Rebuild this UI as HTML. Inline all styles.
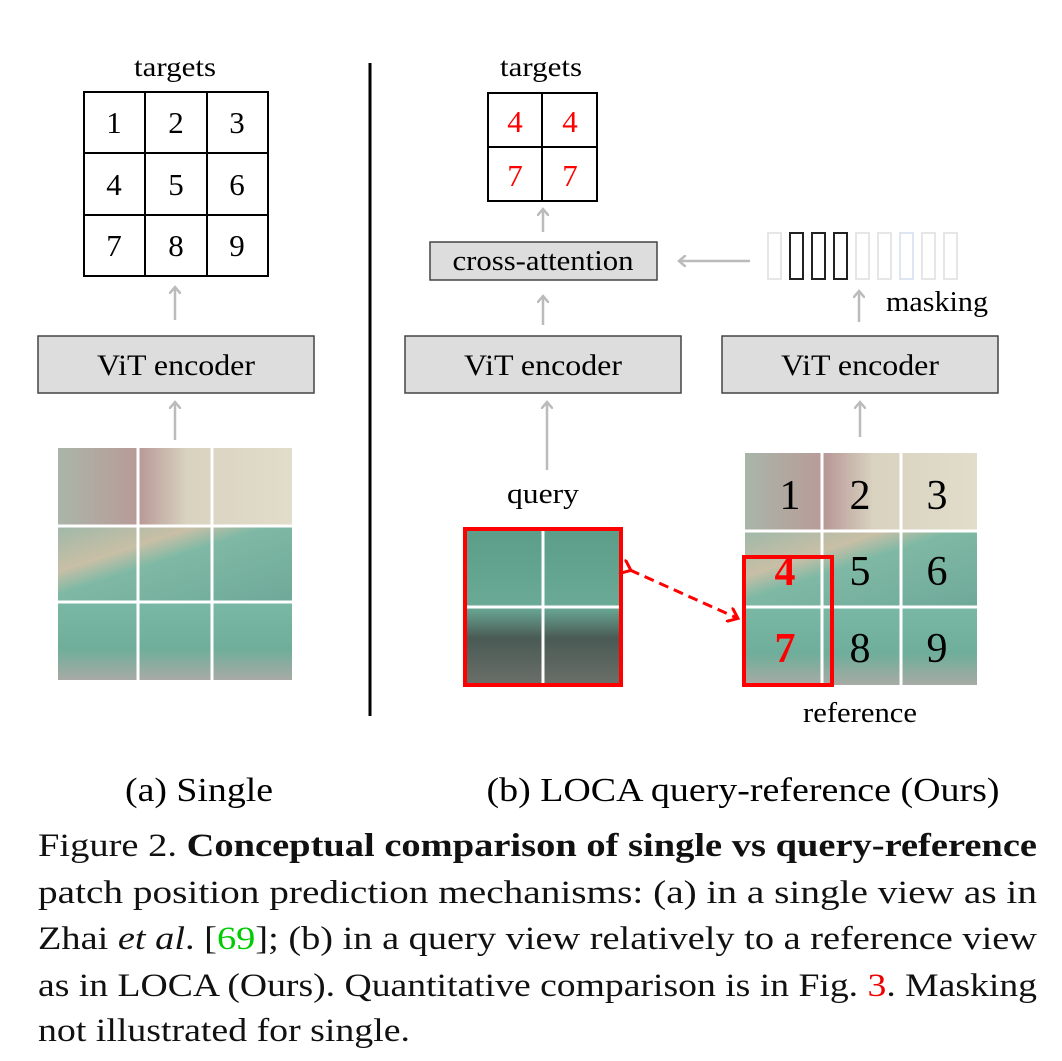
<!DOCTYPE html>
<html><head><meta charset="utf-8"><style>
body{margin:0;width:1062px;height:1061px;background:#fff;position:relative;overflow:hidden;font-family:"Liberation Serif",serif;}
svg{position:absolute;left:0;top:0}
</style></head><body>
<svg width="1062" height="1061" viewBox="0 0 1062 1061" font-family="Liberation Serif, serif">
<defs>
<linearGradient id="ph" x1="0" y1="0" x2="1" y2="1">
<stop offset="0" stop-color="#9fb8a8"/><stop offset="0.3" stop-color="#c8bfa6"/><stop offset="0.45" stop-color="#7fb9a5"/><stop offset="1" stop-color="#6fa898"/></linearGradient>
<linearGradient id="top" x1="0" y1="0" x2="1" y2="0">
<stop offset="0" stop-color="#a9b5a8"/><stop offset="0.35" stop-color="#b99a98"/><stop offset="0.55" stop-color="#d8d2bf"/><stop offset="1" stop-color="#e2dccb"/></linearGradient>
<linearGradient id="bot" x1="0" y1="0" x2="0" y2="1">
<stop offset="0" stop-color="#79b8a4"/><stop offset="0.6" stop-color="#6fae9a"/><stop offset="1" stop-color="#a8aaa5"/></linearGradient>
<linearGradient id="q" x1="0" y1="0" x2="0" y2="1">
<stop offset="0" stop-color="#5b9d88"/><stop offset="0.5" stop-color="#6aaa96"/><stop offset="0.7" stop-color="#4a5a55"/><stop offset="1" stop-color="#6b6f68"/></linearGradient>
<marker id="ga" markerWidth="12" markerHeight="12" refX="6" refY="6" orient="auto" markerUnits="userSpaceOnUse"><path d="M0,0 L7,6 L0,12" fill="none" stroke="#bbb" stroke-width="2.5"/></marker>
<marker id="ra" markerWidth="16" markerHeight="16" refX="9" refY="8" orient="auto" markerUnits="userSpaceOnUse"><path d="M0,0 L10,8 L0,16" fill="none" stroke="#f00" stroke-width="3"/></marker>
</defs>
<g fill="#000" text-anchor="middle">
<text x="175" y="76" font-size="27" textLength="82" lengthAdjust="spacingAndGlyphs">targets</text>
<g fill="none" stroke="#000" stroke-width="2">
<rect x="84" y="92" width="184" height="184"/>
<line x1="145" y1="92" x2="145" y2="276"/><line x1="207" y1="92" x2="207" y2="276"/>
<line x1="84" y1="153" x2="268" y2="153"/><line x1="84" y1="215" x2="268" y2="215"/>
</g>
<g font-size="31">
<text x="114" y="133">1</text><text x="176" y="133">2</text><text x="237" y="133">3</text>
<text x="114" y="195">4</text><text x="176" y="195">5</text><text x="237" y="195">6</text>
<text x="114" y="256">7</text><text x="176" y="256">8</text><text x="237" y="256">9</text>
</g>
<line x1="175" y1="320" x2="175" y2="288" stroke="#bbb" stroke-width="2.5" marker-end="url(#ga)"/>
<rect x="38" y="336" width="276" height="57" fill="#ddd" stroke="#444" stroke-width="1.5"/>
<text x="176" y="375" font-size="30" textLength="158" lengthAdjust="spacingAndGlyphs">ViT encoder</text>
<line x1="175" y1="440" x2="175" y2="403" stroke="#bbb" stroke-width="2.5" marker-end="url(#ga)"/>
<rect x="58" y="448" width="234" height="78" fill="url(#top)"/>
<rect x="58" y="526" width="234" height="76" fill="url(#ph)"/>
<rect x="58" y="602" width="234" height="78" fill="url(#bot)"/>
<g stroke="#fff" stroke-width="3"><line x1="138" y1="448" x2="138" y2="680"/><line x1="212" y1="448" x2="212" y2="680"/><line x1="58" y1="526" x2="292" y2="526"/><line x1="58" y1="602" x2="292" y2="602"/></g>
<line x1="370" y1="63" x2="370" y2="716" stroke="#000" stroke-width="3"/>
<text x="541" y="76" font-size="27" textLength="82" lengthAdjust="spacingAndGlyphs">targets</text>
<g fill="none" stroke="#000" stroke-width="2">
<rect x="488" y="93" width="109" height="108"/>
<line x1="542" y1="93" x2="542" y2="201"/><line x1="488" y1="147" x2="597" y2="147"/>
</g>
<g font-size="31" fill="#f00">
<text x="515" y="132">4</text><text x="570" y="132">4</text>
<text x="515" y="186">7</text><text x="570" y="186">7</text>
</g>
<line x1="543" y1="232" x2="543" y2="210" stroke="#bbb" stroke-width="2.5" marker-end="url(#ga)"/>
<rect x="430" y="242" width="227" height="38" fill="#ddd" stroke="#444" stroke-width="1.5"/>
<text x="543" y="270" font-size="28" textLength="181" lengthAdjust="spacingAndGlyphs">cross-attention</text>
<line x1="750" y1="261" x2="680" y2="261" stroke="#bbb" stroke-width="2.5" marker-end="url(#ga)"/>
<g fill="none" stroke-width="2">
<rect x="768" y="233" width="13" height="46" stroke="#e6e6e6"/>
<rect x="790" y="233" width="13" height="46" stroke="#222"/>
<rect x="812" y="233" width="13" height="46" stroke="#222"/>
<rect x="834" y="233" width="13" height="46" stroke="#222"/>
<rect x="856" y="233" width="13" height="46" stroke="#e6e6e6"/>
<rect x="878" y="233" width="13" height="46" stroke="#e6e6e6"/>
<rect x="900" y="233" width="13" height="46" stroke="#dde6f2"/>
<rect x="922" y="233" width="13" height="46" stroke="#e6e6e6"/>
<rect x="944" y="233" width="13" height="46" stroke="#e6e6e6"/>
</g>
<line x1="859" y1="322" x2="859" y2="292" stroke="#bbb" stroke-width="2.5" marker-end="url(#ga)"/>
<text x="937" y="311" font-size="28" textLength="102" lengthAdjust="spacingAndGlyphs">masking</text>
<line x1="543" y1="325" x2="543" y2="297" stroke="#bbb" stroke-width="2.5" marker-end="url(#ga)"/>
<rect x="405" y="336" width="276" height="57" fill="#ddd" stroke="#444" stroke-width="1.5"/>
<text x="543" y="375" font-size="30" textLength="158" lengthAdjust="spacingAndGlyphs">ViT encoder</text>
<rect x="722" y="336" width="276" height="57" fill="#ddd" stroke="#444" stroke-width="1.5"/>
<text x="860" y="375" font-size="30" textLength="158" lengthAdjust="spacingAndGlyphs">ViT encoder</text>
<line x1="547" y1="470" x2="547" y2="403" stroke="#bbb" stroke-width="2.5" marker-end="url(#ga)"/>
<line x1="860" y1="437" x2="860" y2="403" stroke="#bbb" stroke-width="2.5" marker-end="url(#ga)"/>
<text x="543" y="503" font-size="28" textLength="72" lengthAdjust="spacingAndGlyphs">query</text>
<rect x="465" y="529" width="156" height="156" fill="url(#q)"/>
<g stroke="#fff" stroke-width="3"><line x1="543" y1="529" x2="543" y2="685"/><line x1="465" y1="607" x2="621" y2="607"/></g>
<rect x="465" y="529" width="156" height="156" fill="none" stroke="#f00" stroke-width="4"/>
<line x1="630" y1="570" x2="737" y2="618" stroke="#f00" stroke-width="3" stroke-dasharray="10,6" marker-start="url(#ra)" marker-end="url(#ra)"/>
<rect x="745" y="453" width="232" height="78" fill="url(#top)"/>
<rect x="745" y="531" width="232" height="76" fill="url(#ph)"/>
<rect x="745" y="607" width="232" height="78" fill="url(#bot)"/>
<g stroke="#fff" stroke-width="3"><line x1="822" y1="453" x2="822" y2="685"/><line x1="901" y1="453" x2="901" y2="685"/><line x1="745" y1="531" x2="977" y2="531"/><line x1="745" y1="607" x2="977" y2="607"/></g>
<g font-size="42">
<text x="790" y="509">1</text><text x="860" y="509">2</text><text x="937" y="509">3</text>
<text x="860" y="585">5</text><text x="937" y="585">6</text>
<text x="860" y="662">8</text><text x="937" y="662">9</text>
</g>
<g font-size="42" fill="#f00" font-weight="bold"><text x="785" y="585">4</text><text x="785" y="662">7</text></g>
<rect x="744" y="557" width="88" height="128" fill="none" stroke="#f00" stroke-width="4"/>
<text x="860" y="722" font-size="28" textLength="114" lengthAdjust="spacingAndGlyphs">reference</text>
<text x="199" y="801" font-size="34" textLength="148" lengthAdjust="spacingAndGlyphs">(a) Single</text>
<text x="743" y="801" font-size="34" textLength="513" lengthAdjust="spacingAndGlyphs">(b) LOCA query-reference (Ours)</text>
</g>
<g font-size="33" fill="#111">
<text x="38" y="856" textLength="999" lengthAdjust="spacingAndGlyphs">Figure 2. <tspan font-weight="bold">Conceptual comparison of single vs query-reference</tspan></text>
<text x="38" y="903" textLength="999" lengthAdjust="spacingAndGlyphs">patch position prediction mechanisms: (a) in a single view as in</text>
<text x="38" y="949" textLength="999" lengthAdjust="spacingAndGlyphs">Zhai <tspan font-style="italic">et al</tspan>. [<tspan fill="#0c0">69</tspan>]; (b) in a query view relatively to a reference view</text>
<text x="38" y="996" textLength="999" lengthAdjust="spacingAndGlyphs">as in LOCA (Ours). Quantitative comparison is in Fig. <tspan fill="#e00">3</tspan>. Masking</text>
<text x="38" y="1041" textLength="372" lengthAdjust="spacingAndGlyphs">not illustrated for single.</text>
</g>
</svg>
</body></html>
